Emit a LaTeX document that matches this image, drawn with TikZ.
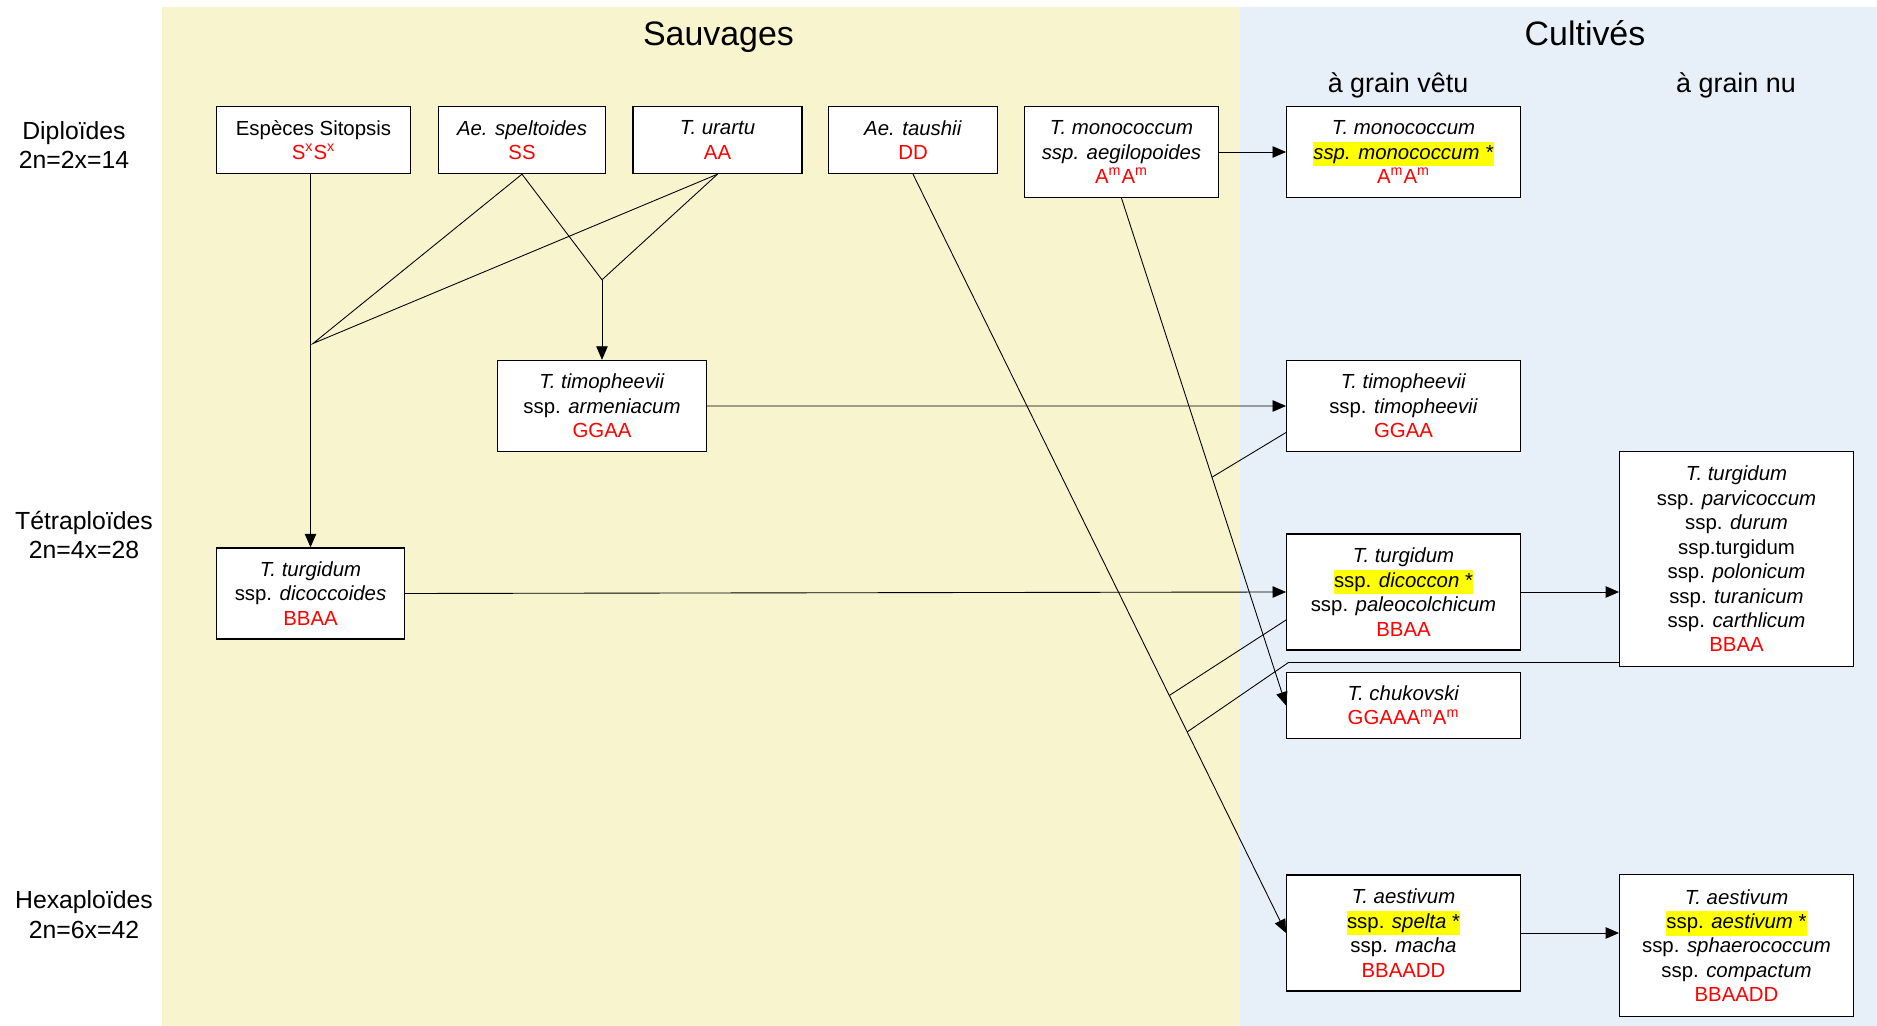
\documentclass[tikz,border=0pt]{standalone}
\usepackage{fontspec}
\setmainfont{Liberation Sans}
\usetikzlibrary{arrows.meta,calc}

\definecolor{sauvage}{RGB}{248,244,206}
\definecolor{cultive}{RGB}{231,239,249}
\definecolor{genome}{RGB}{255,0,0}
\definecolor{surligne}{RGB}{255,255,0}

\newcommand{\surl}[1]{{\setlength{\fboxsep}{0pt}\colorbox{surligne}{\strut #1}}}
\newcommand{\gen}[1]{\textcolor{genome}{#1}}

\begin{document}
\begin{tikzpicture}[>={Triangle[length=2.7mm,width=2.3mm]},line width=0.5pt,
  box/.style={draw,thick,fill=white,align=center,inner sep=1pt,font=\fontsize{11.6}{13.9}\selectfont},
  wide/.style={minimum width=4.67cm},
  rowlab/.style={align=center,font=\fontsize{14.1}{17}\selectfont},
  titre/.style={font=\fontsize{19.3}{23}\selectfont},
  soustitre/.style={font=\fontsize{15.3}{18}\selectfont}]

  % fonds
  \fill[sauvage] (3.23,0) rectangle (24.8,20.38);
  \fill[cultive] (24.8,0) rectangle (37.54,20.38);
  \useasboundingbox (0,0) rectangle (37.54,20.52);

  % titres
  \node[titre]     (sauv) at (14.37,19.78) {Sauvages};
  \node[titre]     (cult) at (31.70,19.85) {Cultivés};
  \node[soustitre] (vetu) at (27.96,18.82) {à grain vêtu};
  \node[soustitre] (nu)   at (34.72,18.82) {à grain nu};

  \node[rowlab] (diplo) at (1.48,17.62) {Diploïdes\\2n=2x=14};
  \node[rowlab] (tetra) at (1.68,9.82)  {Tétraploïdes\\2n=4x=28};
  \node[rowlab] (hexa)  at (1.68,2.23)  {Hexaploïdes\\2n=6x=42};

  % diploides
  \node[box,minimum width=3.88cm,minimum height=1.34cm] (sito) at (6.27,17.72)
    {Espèces Sitopsis\\\gen{S\textsuperscript{x}S\textsuperscript{x}}};
  \node[box,minimum width=3.35cm,minimum height=1.34cm] (spelt) [right of=sito,node distance=4.17cm]
    {\textit{Ae. speltoides}\\\gen{SS}};
  \node[box,minimum width=3.38cm,minimum height=1.34cm] (urartu) [right of=spelt,node distance=3.91cm]
    {\textit{T. urartu}\\\gen{AA}};
  \node[box,minimum width=3.38cm,minimum height=1.34cm] (taushii) [right of=urartu,node distance=3.91cm]
    {\textit{Ae. taushii}\\\gen{DD}};
  \node[box,minimum width=3.88cm,minimum height=1.82cm] (aegil) at (22.43,17.48)
    {\textit{T. monococcum}\\\textit{ssp. aegilopoides}\\\gen{A\textsuperscript{m}A\textsuperscript{m}}};

  % sauvages tetraploides
  \node[box,minimum width=4.17cm,minimum height=1.82cm] (arm) at (12.04,12.40)
    {\textit{T. timopheevii}\\ssp. \textit{armeniacum}\\\gen{GGAA}};
  \node[box,minimum width=3.76cm,minimum height=1.82cm] (dico) at (6.21,8.65)
    {\textit{T. turgidum}\\ssp. \textit{dicoccoides}\\\gen{BBAA}};

  % cultives
  \node[box,wide,minimum height=1.82cm] (monoC) [right of=aegil,node distance=5.64cm]
    {\textit{T. monococcum}\\\surl{\textit{ssp. monococcum *}}\\\gen{A\textsuperscript{m}A\textsuperscript{m}}};
  \node[box,wide,minimum height=1.82cm] (timC) [below of=monoC,node distance=5.08cm]
    {\textit{T. timopheevii}\\ssp. \textit{timopheevii}\\\gen{GGAA}};
  \node[box,wide,minimum height=2.32cm] (dicoC) [below of=timC,node distance=3.72cm]
    {\textit{T. turgidum}\\\surl{ssp. \textit{dicoccon} *}\\ssp. \textit{paleocolchicum}\\\gen{BBAA}};
  \node[box,wide,minimum height=1.32cm] (chuk) [below of=dicoC,node distance=2.27cm]
    {\textit{T. chukovski}\\\gen{GGAAA\textsuperscript{m}A\textsuperscript{m}}};
  \node[box,wide,minimum height=2.32cm] (spelta) [below of=chuk,node distance=4.55cm]
    {\textit{T. aestivum}\\\surl{ssp. \textit{spelta} *}\\ssp. \textit{macha}\\\gen{BBAADD}};
  \node[box,wide,minimum height=4.31cm] (parv) at (34.73,9.34)
    {\textit{T. turgidum}\\ssp. \textit{parvicoccum}\\ssp. \textit{durum}\\ssp.turgidum\\ssp. \textit{polonicum}\\ssp. \textit{turanicum}\\ssp. \textit{carthlicum}\\\gen{BBAA}};
  \node[box,wide,minimum height=2.83cm] (aest) at (34.73,1.61)
    {\textit{T. aestivum}\\\surl{ssp. \textit{aestivum} *}\\ssp. \textit{sphaerococcum}\\ssp. \textit{compactum}\\\gen{BBAADD}};

  % points de jonction
  \coordinate (j1) at (6.26,13.65);
  \coordinate (j2) at ([yshift=1.6cm]arm.north);
  \coordinate (j3) at ($(aegil.south)!0.55!(chuk.west)$);
  \coordinate (j4) at ($(taushii.south)!0.687!(spelta.west)$);
  \coordinate (j5) at ($(taushii.south)!0.735!(spelta.west)$);
  \coordinate (p)  at ([yshift=0.1cm]parv.south west);

  \draw (spelt.south) -- (j1) -- (urartu.south);
  \draw (spelt.south) -- (j2) -- (urartu.south);
  \draw ([yshift=-0.53cm]timC.west) -- (j3);
  \draw ([yshift=-0.56cm]dicoC.west) -- (j4);
  \draw (p) -- ($(chuk.north west |- p)+(0.05,0)$) -- (j5);

  \path[->] (dico.north |- sito.south) edge (dico.north)
            (j2)          edge (arm.north)
            (arm.east)    edge (timC.west)
            (aegil.east)  edge (monoC.west)
            (aegil.south) edge (chuk.west)
            (taushii.south) edge (spelta.west)
            (dico.east)   edge (dicoC.west)
            (dicoC.east)  edge (dicoC.east -| parv.west)
            (spelta.east) edge (spelta.east -| aest.west);
\end{tikzpicture}
\end{document}
